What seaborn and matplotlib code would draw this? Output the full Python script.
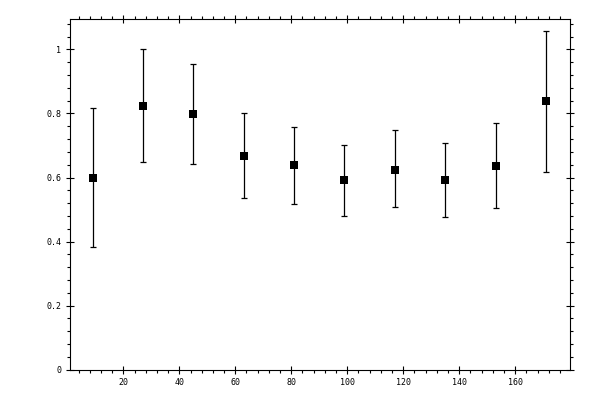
import numpy as np
import pandas as pd
import matplotlib
matplotlib.use("Agg")
import matplotlib.pyplot as plt
import seaborn as sns
from matplotlib.ticker import MultipleLocator

# --------------------------------------------------
# data
# --------------------------------------------------
x_vals = [9, 27, 45, 63, 81, 99, 117, 135, 153, 171]
y_vals = [0.600, 0.822, 0.797, 0.666, 0.638, 0.591, 0.625, 0.591, 0.635, 0.838]
y_upper = [0.816, 1.000, 0.956, 0.800, 0.758, 0.702, 0.747, 0.707, 0.769, 1.059]
y_lower = [0.382, 0.647, 0.641, 0.535, 0.516, 0.480, 0.508, 0.477, 0.505, 0.616]

df = pd.DataFrame({"x": x_vals, "y": y_vals, "hi": y_upper, "lo": y_lower})

sns.set_style("white")
plt.rcParams['font.family'] = ['DejaVu Sans Mono', 'DejaVu Sans']

fig = plt.figure(figsize=(6, 4), dpi=100)
ax = fig.add_axes([0.116, 0.0758, 0.834, 0.8767])

yerr = np.array([df["y"] - df["lo"], df["hi"] - df["y"]])
ax.errorbar(df["x"], df["y"], yerr=yerr, fmt="none", ecolor="black",
            elinewidth=0.9, capsize=2.3, capthick=0.9)
sns.scatterplot(data=df, x="x", y="y", marker="s", color="black",
                s=30, edgecolor="black", linewidth=0, ax=ax, zorder=3)

ax.set_xlim(0.8, 179.6)
ax.set_ylim(0, 1.095)
ax.set_xlabel("")
ax.set_ylabel("")

ax.xaxis.set_major_locator(MultipleLocator(20))
ax.xaxis.set_minor_locator(MultipleLocator(4))
ax.yaxis.set_major_locator(MultipleLocator(0.2))
ax.yaxis.set_minor_locator(MultipleLocator(0.04))
ax.xaxis.set_major_formatter(lambda v, p: "" if v == 0 else f"{v:g}")
ax.yaxis.set_major_formatter(lambda v, p: f"{v:g}")

for s in ax.spines.values():
    s.set_color("black")
    s.set_linewidth(0.8)

ax.tick_params(which="both", top=True, right=True, bottom=True, left=True,
               labeltop=False, labelright=False, colors="black",
               labelsize=6, width=0.8)
ax.tick_params(which="major", direction="inout", length=6, pad=3)
ax.tick_params(which="minor", direction="out", length=2.5)

fig.savefig("out.png", dpi=100)
